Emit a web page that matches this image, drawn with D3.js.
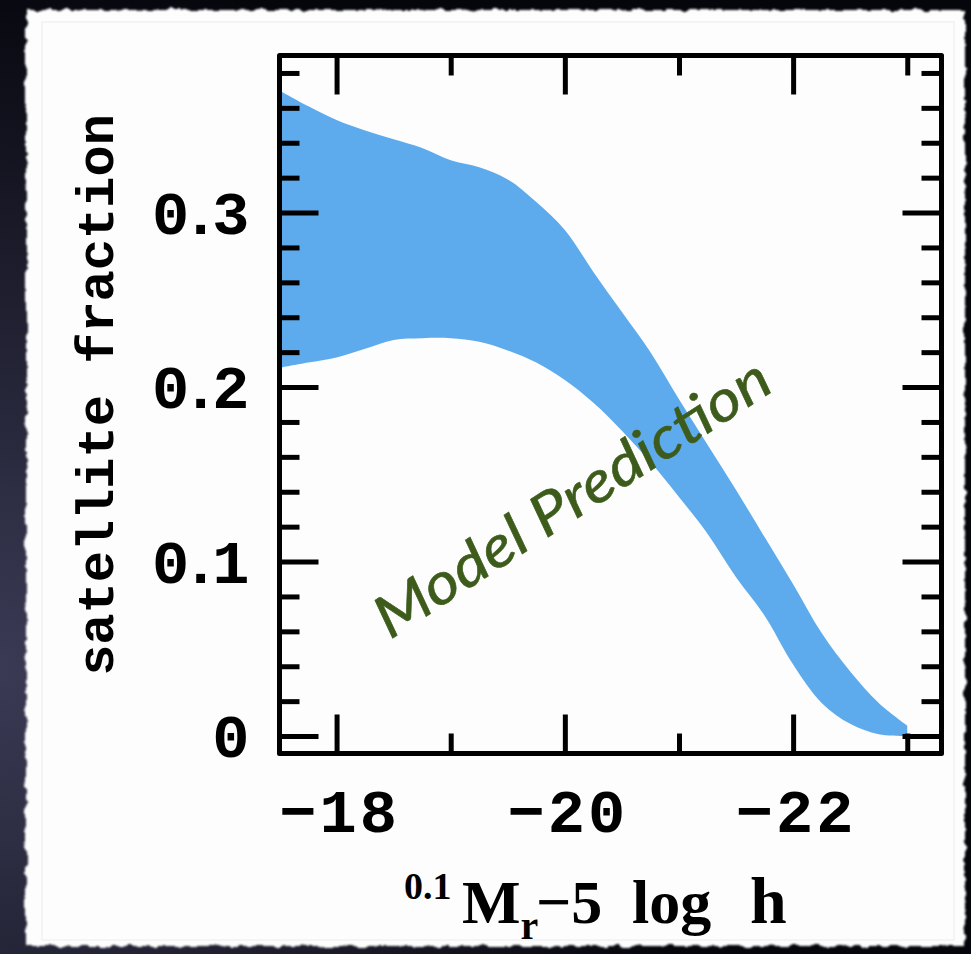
<!DOCTYPE html>
<html>
<head>
<meta charset="utf-8">
<script src="https://cdn.jsdelivr.net/npm/d3@7"></script>
<style>
  body { margin: 0; background: #0b0b16; }
  svg { display: block; }
  .tick-label { font-family: "Liberation Mono", monospace; font-weight: bold; font-size: 62px; fill: #000; }
  .axis-title { font-weight: bold; fill: #000; }
</style>
</head>
<body>
<svg id="chart" width="971" height="954"></svg>
<script>
// band of the model prediction
const magnitude = [-17.5, -17.75, -18, -18.25, -18.5, -18.75, -19, -19.25, -19.5, -19.75, -20,
  -20.25, -20.5, -20.75, -21, -21.25, -21.5, -21.75, -22, -22.25, -22.5, -22.75, -23];
const fracHigh = [0.370, 0.361, 0.353, 0.347, 0.342, 0.337, 0.330, 0.326, 0.319, 0.306, 0.290,
  0.266, 0.243, 0.220, 0.193, 0.167, 0.141, 0.114, 0.087, 0.059, 0.037, 0.019, 0.006];
const fracLow = [0.211, 0.214, 0.217, 0.222, 0.227, 0.228, 0.228, 0.226, 0.221, 0.214, 0.204,
  0.191, 0.175, 0.157, 0.137, 0.116, 0.091, 0.069, 0.041, 0.019, 0.007, 0.001, 0.000];

const xMajorTicks = [-18, -20, -22];
const xMinorTicks = [-19, -21, -23];
const xTickLabels = ["\u221218", "\u221220", "\u221222"];
const yMajorTicks = [0, 0.1, 0.2, 0.3];
const yMinorTicks = [0.02, 0.04, 0.06, 0.08, 0.12, 0.14, 0.16, 0.18, 0.22, 0.24, 0.26, 0.28, 0.32, 0.34, 0.36, 0.38];
const yTickLabels = ["0", "0.1", "0.2", "0.3"];

const svg = d3.select("#chart");
const width = +svg.attr("width");
const height = +svg.attr("height");

const margin = { top: 55.5, right: 29.5, bottom: 200.5, left: 279.5 };
const plotRight = width - margin.right;
const plotBottom = height - margin.bottom;

const defs = svg.append("defs");

const bg = defs.append("radialGradient")
  .attr("id", "bg")
  .attr("cx", "0%").attr("cy", "70%").attr("r", "75%");
bg.append("stop").attr("offset", "0%").attr("stop-color", "#3a3a55");
bg.append("stop").attr("offset", "100%").attr("stop-color", "#05050c");

const torn = defs.append("filter").attr("id", "torn")
  .attr("x", "-5%").attr("y", "-5%").attr("width", "110%").attr("height", "110%");
torn.append("feTurbulence")
  .attr("type", "fractalNoise").attr("baseFrequency", "0.09").attr("numOctaves", 3).attr("seed", 4)
  .attr("result", "noise");
torn.append("feDisplacementMap")
  .attr("in", "SourceGraphic").attr("in2", "noise").attr("scale", 7)
  .attr("xChannelSelector", "R").attr("yChannelSelector", "G").attr("result", "disp");
torn.append("feGaussianBlur").attr("in", "disp").attr("stdDeviation", 0.8);

defs.append("clipPath").attr("id", "plot-clip")
  .append("rect")
  .attr("x", margin.left).attr("y", margin.top)
  .attr("width", plotRight - margin.left).attr("height", plotBottom - margin.top);

// dark backdrop and the torn sheet of paper
svg.append("rect").attr("width", width).attr("height", height).attr("fill", "url(#bg)");
svg.append("rect")
  .attr("x", 26).attr("y", 10).attr("width", 939).attr("height", 936)
  .attr("fill", "#fcfdfc")
  .attr("filter", "url(#torn)");
svg.append("rect")
  .attr("x", 42).attr("y", 22).attr("width", 912).attr("height", 918)
  .attr("fill", "none").attr("stroke", "#ececec").attr("stroke-width", 1);

const x = d3.scaleLinear()
  .domain([-17.5, -23.3])
  .range([margin.left, plotRight]);

const y = d3.scaleLinear()
  .domain([-0.01, 0.39])
  .range([plotBottom, margin.top]);

const bandData = magnitude.map((m, i) => ({ m: m, hi: fracHigh[i], lo: fracLow[i] }));

const area = d3.area()
  .x(d => x(d.m))
  .y0(d => y(d.lo))
  .y1(d => y(d.hi))
  .curve(d3.curveCatmullRom);

svg.append("path")
  .datum(bandData)
  .attr("clip-path", "url(#plot-clip)")
  .attr("fill", "#5dabec")
  .attr("d", area);

// ticks on all four sides, pointing inward
const majorLen = 39;
const minorLen = 20;

function tickAxis(axis, values, len, transform) {
  const a = svg.append("g")
    .attr("transform", transform)
    .call(axis.tickValues(values).tickSize(-len).tickSizeOuter(0).tickFormat(""));
  a.select(".domain").remove();
  a.selectAll(".tick line").attr("stroke", "#000").attr("stroke-width", 5);
}

tickAxis(d3.axisBottom(x), xMajorTicks, majorLen, `translate(0,${plotBottom})`);
tickAxis(d3.axisBottom(x), xMinorTicks, minorLen, `translate(0,${plotBottom})`);
tickAxis(d3.axisTop(x), xMajorTicks, majorLen, `translate(0,${margin.top})`);
tickAxis(d3.axisTop(x), xMinorTicks, minorLen, `translate(0,${margin.top})`);
tickAxis(d3.axisLeft(y), yMajorTicks, majorLen, `translate(${margin.left},0)`);
tickAxis(d3.axisLeft(y), yMinorTicks, minorLen, `translate(${margin.left},0)`);
tickAxis(d3.axisRight(y), yMajorTicks, majorLen, `translate(${plotRight},0)`);
tickAxis(d3.axisRight(y), yMinorTicks, minorLen, `translate(${plotRight},0)`);

svg.append("rect")
  .attr("x", margin.left)
  .attr("y", margin.top)
  .attr("width", plotRight - margin.left)
  .attr("height", plotBottom - margin.top)
  .attr("fill", "none")
  .attr("stroke", "#000")
  .attr("stroke-width", 5)
  .attr("stroke-linejoin", "round");

// tick labels
svg.selectAll(".x-label")
  .data(xMajorTicks)
  .enter()
  .append("text")
  .attr("class", "tick-label x-label")
  .attr("x", d => x(d) + 3)
  .attr("y", plotBottom + 78)
  .attr("text-anchor", "middle")
  .style("letter-spacing", "3px")
  .text((d, i) => xTickLabels[i]);

svg.selectAll(".y-label")
  .data(yMajorTicks)
  .enter()
  .append("text")
  .attr("class", "tick-label y-label")
  .attr("x", margin.left - 37)
  .attr("y", d => y(d) + 21)
  .attr("text-anchor", "end")
  .style("letter-spacing", "-7px")
  .text((d, i) => yTickLabels[i]);

// axis titles (rotated about a point so the local box stays on the page)
svg.append("text")
  .attr("class", "axis-title")
  .attr("transform", "rotate(-90,400,400)")
  .attr("x", 405)
  .attr("y", 113)
  .attr("text-anchor", "middle")
  .style("font-family", "'Liberation Mono', monospace")
  .style("font-size", "52px")
  .text("satellite fraction");

const xTitle = svg.append("text")
  .attr("class", "axis-title")
  .style("font-family", "'Liberation Serif', serif");
xTitle.append("tspan").attr("x", 404).attr("y", 899).style("font-size", "38px").text("0.1");
xTitle.append("tspan").attr("x", 462).attr("y", 923).style("font-size", "62px").text("M");
xTitle.append("tspan").attr("y", 939).style("font-size", "40px").text("r");
xTitle.append("tspan").attr("x", 536).attr("y", 923).style("font-size", "62px").text("\u22125");
xTitle.append("tspan").attr("x", 632).attr("y", 923).style("font-size", "62px").text("log");
xTitle.append("tspan").attr("x", 750).attr("y", 923).style("font-size", "66px").text("h");

// annotation
svg.append("text")
  .attr("transform", "rotate(-33,390,640)")
  .attr("x", 390)
  .attr("y", 640)
  .style("font-family", "Lato, sans-serif")
  .style("font-style", "italic")
  .style("font-size", "58px")
  .attr("fill", "#3d5c1c")
  .attr("stroke", "#3d5c1c")
  .attr("stroke-width", 0.6)
  .attr("textLength", 460)
  .attr("lengthAdjust", "spacingAndGlyphs")
  .text("Model Prediction");
</script>
</body>
</html>
